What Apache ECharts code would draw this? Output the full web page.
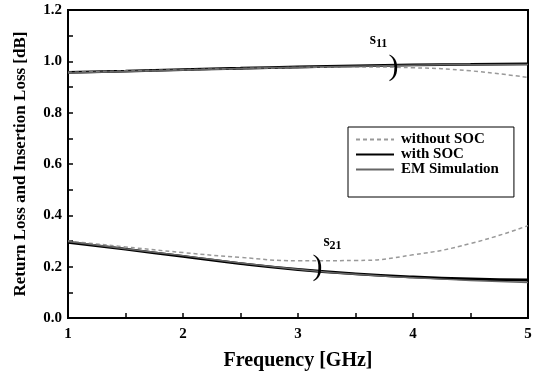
<!DOCTYPE html>
<html><head><meta charset="utf-8">
<script src="https://cdn.jsdelivr.net/npm/echarts@6/dist/echarts.min.js"></script>
<style>html,body{margin:0;padding:0;background:#fff}#c{width:539px;height:376px}</style>
</head><body><div id="c"></div>
<script>
var freq = [1, 1.5, 2, 2.5, 3, 3.5, 4, 4.5, 5];
var s11Without = [0.957, 0.962, 0.967, 0.972, 0.976, 0.978, 0.975, 0.963, 0.937];
var s11With    = [0.957, 0.962, 0.968, 0.973, 0.978, 0.982, 0.986, 0.988, 0.990];
var s11EM      = [0.955, 0.960, 0.966, 0.972, 0.977, 0.981, 0.985, 0.987, 0.988];
var s21Without = [0.300, 0.277, 0.255, 0.236, 0.223, 0.224, 0.246, 0.290, 0.360];
var s21With    = [0.295, 0.268, 0.240, 0.212, 0.189, 0.172, 0.160, 0.152, 0.148];
var s21EM      = [0.298, 0.270, 0.243, 0.214, 0.190, 0.170, 0.157, 0.146, 0.138];
var xTicks = [1, 2, 3, 4, 5];
var yTicks = [0, 0.2, 0.4, 0.6, 0.8, 1.0, 1.2];

function pairs(v){ return freq.map(function(f,i){ return [f, v[i]]; }); }
var font = '"Liberation Serif", "DejaVu Serif", serif';
var styles = {
  without: {color:'#999', width:1.5, type:[4,3]},
  with: {color:'#000', width:2.8, type:'solid'},
  em: {color:'#666', width:1.5, type:'solid'}
};
function ser(name, data, st, extra){
  var s = {name:name, type:'line', data:pairs(data), smooth:true, showSymbol:false, symbol:'none',
    lineStyle:{color:st.color, width:st.width, type:st.type}, itemStyle:{color:st.color}, z: st===styles.with?3:4};
  if (extra) for (var k in extra) s[k]=extra[k];
  return s;
}
var rich = {s:{fontFamily:font, fontWeight:'bold', fontSize:16, color:'#000'}, sub:{fontFamily:font, fontWeight:'bold', fontSize:12, color:'#000', verticalAlign:'bottom', padding:[8,0,0,0]}};
var chart = echarts.init(document.getElementById('c'));
chart.setOption({
  animation:false,
  grid:{left:68, right:11, top:10, bottom:58, show:true, borderColor:'#000', borderWidth:2, backgroundColor:'transparent'},
  legend:{
    orient:'vertical', left:348, top:127,
    data:['without SOC','with SOC','EM Simulation'],
    borderColor:'#000', borderWidth:1, padding:[5,15,20,7], itemGap:0,
    itemWidth:38, itemHeight:2,
    itemStyle:{opacity:0},
    textStyle:{fontFamily:font, fontWeight:'bold', fontSize:15, color:'#000', padding:[0,0,0,2], lineHeight:15}
  },
  xAxis:{type:'value', min:1, max:5, interval:1,
    name:'Frequency [GHz]', nameLocation:'middle', nameGap:33,
    nameTextStyle:{fontFamily:font, fontWeight:'bold', fontSize:20, color:'#000'},
    axisLine:{show:true, lineStyle:{color:'#000', width:2}},
    axisTick:{show:true, inside:true, length:5, lineStyle:{color:'#000', width:1.5}},
    minorTick:{show:true, splitNumber:2, length:5, lineStyle:{color:'#000', width:1.5}},
    splitLine:{show:false},
    axisLabel:{fontFamily:font, fontWeight:'bold', fontSize:15, color:'#000', margin:9,
      formatter:function(v){ return xTicks.indexOf(v)>=0 ? String(v) : ''; }}
  },
  yAxis:{type:'value', min:0, max:1.2, interval:0.2,
    name:'Return Loss and Insertion Loss [dB]', nameLocation:'middle', nameGap:39,
    nameTextStyle:{fontFamily:font, fontWeight:'bold', fontSize:17, color:'#000'},
    axisLine:{show:true, lineStyle:{color:'#000', width:2}},
    axisTick:{show:true, inside:true, length:5, lineStyle:{color:'#000', width:1.5}},
    minorTick:{show:true, splitNumber:2, length:5, lineStyle:{color:'#000', width:1.5}},
    splitLine:{show:false},
    axisLabel:{fontFamily:font, fontWeight:'bold', fontSize:15, color:'#000', margin:6,
      formatter:function(v){ return v.toFixed(1); }}
  },
  series:[
    ser('without SOC', s11Without, styles.without, {markPoint:{symbol:'circle', symbolSize:0, silent:true,
      data:[
        {coord:[3.7,1.085], label:{show:true, position:'inside', formatter:'{s|s}{sub|11}', rich:rich}},
        {coord:[3.83,0.979], label:{show:true, position:'inside', formatter:')', fontFamily:font, fontSize:30, color:'#000'}},
        {coord:[3.3,0.295], label:{show:true, position:'inside', formatter:'{s|s}{sub|21}', rich:rich}},
        {coord:[3.17,0.2], label:{show:true, position:'inside', formatter:')', fontFamily:font, fontSize:30, color:'#000'}}
      ]}}),
    ser('with SOC', s11With, styles.with),
    ser('EM Simulation', s11EM, styles.em),
    ser('without SOC', s21Without, styles.without),
    ser('with SOC', s21With, styles.with),
    ser('EM Simulation', s21EM, styles.em)
  ]
});
</script></body></html>
